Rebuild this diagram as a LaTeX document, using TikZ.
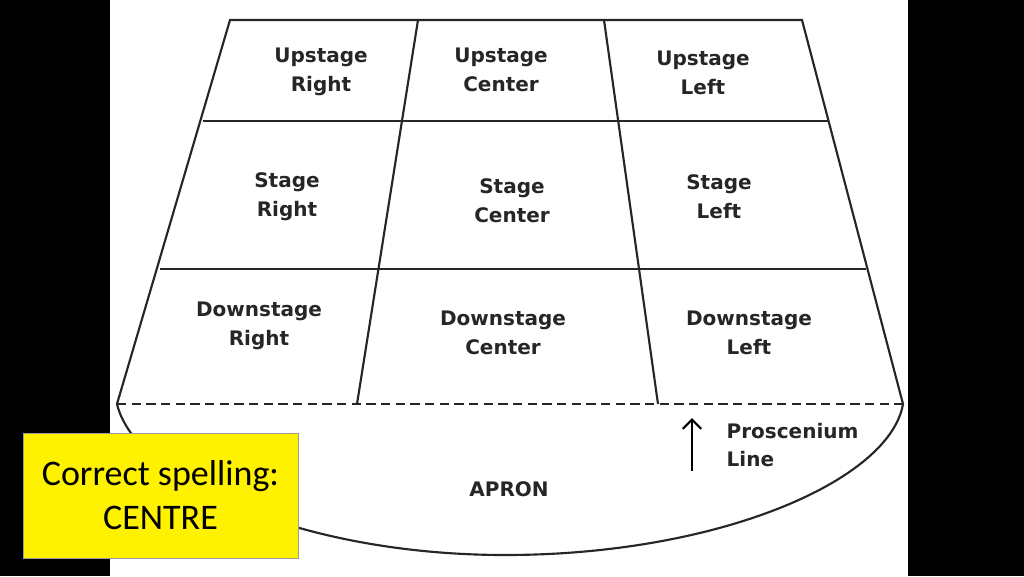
\documentclass[tikz,border=0pt]{standalone}
\usepackage{fontspec}
\usetikzlibrary{arrows.meta}
\setmainfont{DejaVu Sans}
\newfontfamily\notefont{Carlito}
\tikzset{
  zone/.style={font=\bfseries\fontsize{15}{21.5}\selectfont, align=center, text=black!85},
  stageline/.style={line width=1.6pt, black!85}
}
\begin{document}
\begin{tikzpicture}[x=0.75pt,y=-0.75pt]
\fill[black] (0,0) rectangle (1024,576);
\fill[white] (110,0) rectangle (908,576);

% apron
\draw[stageline] (117,404) .. controls (135,480) and (300,555) .. (505,555)
  .. controls (720,555) and (890,480) .. (903,404);
% stage outline
\draw[stageline] (117,404) -- (230,20) -- (802,20) -- (903,404);
\draw[stageline] (203,121) -- (828,121);
\draw[stageline] (160,269) -- (866,269);
\draw[stageline] (418,20) -- (357,404);
\draw[stageline] (604,20) -- (658,404);
\draw[stageline, dashed, dash pattern=on 7pt off 4pt] (117,404) -- (903,404);

\node[zone] (usr) at (321,72) {Upstage\\Right};
\node[zone] (usc) at (501,70) {Upstage\\Center};
\node[zone] (usl) at (703,73) {Upstage\\Left};
\node[zone] (sr) at (287,197) {Stage\\Right};
\node[zone] (sc) at (512,201) {Stage\\Center};
\node[zone] (sl) at (719,197) {Stage\\Left};
\node[zone] (dsr) at (259,326) {Downstage\\Right};
\node[zone] (dsc) at (503,333) {Downstage\\Center};
\node[zone] (dsl) at (749,333) {Downstage\\Left};
\node[zone] (apron) at (509,489) {APRON};
\node[zone, align=left, anchor=west] (pros) at (722,445) {Proscenium\\Line};
\coordinate (arrowfoot) at (692,471);
\draw[line width=1.6pt, -{Straight Barb[length=7pt,width=14pt]}] (arrowfoot) -- (692,418);

\node[draw=black!40, fill=yellow, minimum width=206pt, minimum height=94pt,
  font=\notefont\fontsize{27}{33}\selectfont, align=center] (note) at (160.5,495.5)
  {Correct spelling:\\CENTRE};
\end{tikzpicture}
\end{document}
